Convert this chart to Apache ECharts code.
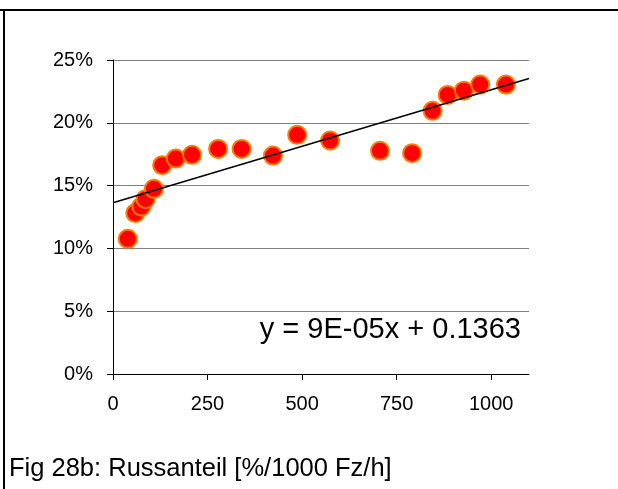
<!DOCTYPE html>
<html>
<head>
<meta charset="utf-8">
<script src="https://cdn.jsdelivr.net/npm/echarts@6/dist/echarts.min.js"></script>
<style>
  html, body { margin: 0; padding: 0; background: #fff; }
  #chart { width: 618px; height: 489px; }
</style>
</head>
<body>
<div id="chart"></div>
<script>
// Fleet size (Fz/h) against soot share
const fleetPerHour = [39, 59, 75, 86, 108, 130, 166, 209, 278, 340, 423, 487, 574, 706, 791, 845, 885, 928, 971, 1039];
const sootShare = [0.1076, 0.1281, 0.1333, 0.1392, 0.1474, 0.1663, 0.1715, 0.1745, 0.1792, 0.1792, 0.1739, 0.1904, 0.1859, 0.1777, 0.1758, 0.2095, 0.2222, 0.2256, 0.2304, 0.2304];

// Linear trend as printed in the equation
const trendSlope = 0.00009;
const trendIntercept = 0.1363;
const trendSpan = [0, 1100];

const xTicks = [0, 250, 500, 750, 1000];
const yTicks = [0, 0.05, 0.10, 0.15, 0.20, 0.25];

const captionText = 'Fig 28b: Russanteil [%/1000 Fz/h]';
const equationText = 'y = 9E-05x + 0.1363';

const font = 'Liberation Sans, Arial, sans-serif';

const points = fleetPerHour.map((x, i) => [x, sootShare[i]]);
const trend = trendSpan.map(x => [x, trendIntercept + trendSlope * x]);

const chart = echarts.init(document.getElementById('chart'), null, { renderer: 'canvas' });

chart.setOption({
  animation: false,
  backgroundColor: '#ffffff',
  grid: { left: 113, right: 89, top: 60, bottom: 115, containLabel: false },
  xAxis: {
    type: 'value',
    min: trendSpan[0],
    max: trendSpan[1],
    interval: 250,
    axisLine: { show: true, lineStyle: { color: '#000', width: 1 } },
    axisTick: { show: true, length: 6, inside: false, customValues: xTicks, lineStyle: { color: '#000' } },
    axisLabel: {
      customValues: xTicks, margin: 20, color: '#000', fontFamily: font, fontSize: 20,
      formatter: v => String(v)
    },
    splitLine: { show: false }
  },
  yAxis: {
    type: 'value',
    min: yTicks[0],
    max: yTicks[yTicks.length - 1],
    interval: 0.05,
    axisLine: { show: true, lineStyle: { color: '#000', width: 1 } },
    axisTick: { show: true, length: 6, inside: false, lineStyle: { color: '#000' } },
    axisLabel: {
      margin: 20, color: '#000', fontFamily: font, fontSize: 20,
      formatter: v => Math.round(v * 100) + '%'
    },
    splitLine: { show: true, lineStyle: { color: '#808080', width: 1 } }
  },
  series: [
    {
      name: 'Trend',
      type: 'line',
      data: trend,
      symbol: 'none',
      lineStyle: { color: '#000', width: 1.5 },
      z: 3
    },
    {
      name: 'Russanteil',
      type: 'scatter',
      data: points,
      symbol: 'circle',
      symbolSize: 18,
      itemStyle: { color: '#ff0000', borderColor: '#ff7a00', borderWidth: 2, opacity: 1 },
      z: 2
    }
  ],
  graphic: [
    // frame lines
    { type: 'line', shape: { x1: 0, y1: 10, x2: 618, y2: 10 }, style: { stroke: '#000', lineWidth: 2 } },
    { type: 'line', shape: { x1: 4, y1: 9, x2: 4, y2: 489 }, style: { stroke: '#000', lineWidth: 2 } },
    {
      type: 'text', right: 97, top: 315,
      style: { text: equationText, fill: '#000', font: '29px ' + font }
    },
    {
      type: 'text', left: 9, top: 456,
      style: { text: captionText, fill: '#000', font: '25.5px ' + font }
    }
  ]
});
</script>
</body>
</html>
